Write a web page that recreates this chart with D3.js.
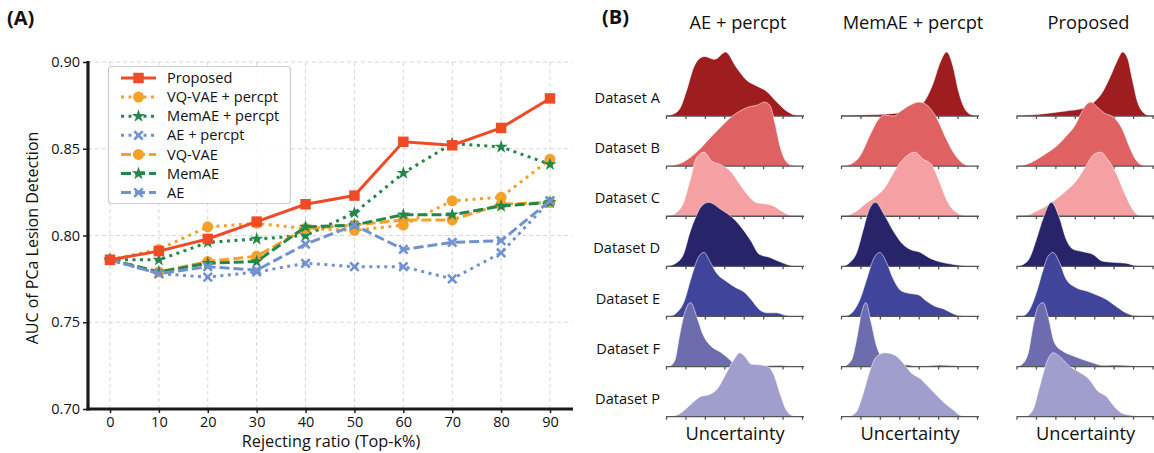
<!DOCTYPE html>
<meta charset="UTF-8">
<head>
    <script src="https://d3js.org/d3.v7.min.js"></script>
    <style>
        body { margin: 0; background: #fff; }
        text { font-family: "Open Sans", sans-serif; fill: #111; }
        .grid line { stroke: #d4d4d4; stroke-width: 0.9px; stroke-dasharray: 4,3; }
        .spine { stroke: #1a1a1a; stroke-width: 3.2px; }
        .ridge-axis path, .ridge-axis line { stroke: #555; stroke-width: 1.3px; }
    </style>
</head>
<body>
<script>
    // ---------- panel A data ----------
    var ratios = [0, 10, 20, 30, 40, 50, 60, 70, 80, 90];
    var yTicks = [0.70, 0.75, 0.80, 0.85, 0.90];

    var proposed    = [0.786, 0.791, 0.798, 0.808, 0.818, 0.823, 0.854, 0.852, 0.862, 0.879];
    var vqvaePercpt = [0.786, 0.792, 0.805, 0.807, 0.804, 0.803, 0.806, 0.820, 0.822, 0.844];
    var memaePercpt = [0.786, 0.786, 0.796, 0.798, 0.800, 0.813, 0.836, 0.853, 0.851, 0.841];
    var aePercpt    = [0.786, 0.778, 0.776, 0.779, 0.784, 0.782, 0.782, 0.775, 0.790, 0.820];
    var vqvae       = [0.786, 0.779, 0.785, 0.788, 0.804, 0.806, 0.809, 0.809, 0.818, 0.819];
    var memae       = [0.786, 0.779, 0.784, 0.785, 0.805, 0.806, 0.812, 0.812, 0.817, 0.819];
    var ae          = [0.786, 0.778, 0.782, 0.780, 0.795, 0.806, 0.792, 0.796, 0.797, 0.820];

    var methodNames = ["Proposed", "VQ-VAE + percpt", "MemAE + percpt", "AE + percpt", "VQ-VAE", "MemAE", "AE"];

    // ---------- panel B data (density, fraction of peak, x in tick units 0..7) ----------
    var datasets = ["Dataset A", "Dataset B", "Dataset C", "Dataset D", "Dataset E", "Dataset F", "Dataset P"];
    var ridgeTitles = ["AE + percpt", "MemAE + percpt", "Proposed"];

    var ridgeAEPercpt = [
        [[0,0],[0.38,0.03],[0.72,0.12],[1.06,0.4],[1.4,0.74],[1.66,0.88],[2.0,0.93],[2.5,0.885],[3.07,1.0],[3.6,0.77],[4.15,0.56],[4.67,0.47],[5.2,0.38],[5.7,0.22],[6.2,0.08],[6.64,0.015],[7,0]],
        [[0,0],[0.2,0.005],[0.72,0.04],[1.23,0.13],[1.75,0.27],[2.26,0.44],[2.78,0.6],[3.3,0.755],[3.8,0.86],[4.32,0.93],[4.67,0.95],[5.06,1.0],[5.35,0.95],[5.6,0.68],[5.87,0.31],[6.12,0.1],[6.47,0.015],[7,0]],
        [[0,0],[0.2,0.01],[0.55,0.06],[0.9,0.21],[1.23,0.55],[1.58,0.92],[1.96,1.0],[2.35,0.86],[2.78,0.81],[3.3,0.71],[3.8,0.5],[4.24,0.32],[4.67,0.21],[5.18,0.19],[5.6,0.15],[5.95,0.08],[6.38,0.015],[7,0]],
        [[0,0],[0.1,0.005],[0.55,0.057],[0.9,0.19],[1.23,0.53],[1.5,0.75],[1.8,0.93],[2.2,1.0],[2.78,0.9],[3.6,0.71],[4.03,0.55],[4.37,0.4],[4.8,0.19],[5.35,0.14],[5.87,0.07],[6.4,0.015],[7,0]],
        [[0,0],[0.2,0.005],[0.55,0.06],[0.9,0.21],[1.32,0.63],[1.66,0.92],[1.96,1.0],[2.26,0.86],[2.6,0.68],[3.1,0.55],[3.6,0.45],[4.03,0.38],[4.37,0.27],[4.8,0.11],[5.18,0.057],[5.7,0.057],[6.12,0.02],[6.55,0.003],[7,0]],
        [[0,0],[0.2,0.01],[0.46,0.1],[0.72,0.52],[0.98,0.86],[1.27,1.0],[1.58,0.78],[1.92,0.49],[2.35,0.31],[2.78,0.23],[3.2,0.13],[3.6,0.03],[4.15,0.01],[4.67,0.01],[5.87,0.02],[6.4,0.005],[7,0]],
        [[0,0],[0.38,0.01],[0.72,0.05],[1.23,0.18],[1.75,0.31],[2.26,0.35],[2.6,0.42],[3.1,0.68],[3.53,0.91],[3.8,1.0],[4.06,0.94],[4.4,0.82],[4.83,0.81],[5.26,0.78],[5.52,0.68],[5.87,0.36],[6.2,0.1],[6.55,0.015],[7,0]]
    ];
    var ridgeMemAEPercpt = [
        [[0,0],[0.46,0.01],[1.5,0.02],[2.7,0.04],[3.37,0.07],[3.9,0.12],[4.4,0.28],[4.74,0.51],[5.08,0.82],[5.44,1.0],[5.77,0.77],[6.03,0.41],[6.28,0.17],[6.63,0.03],[7,0]],
        [[0,0],[0.1,0.003],[0.46,0.026],[0.98,0.16],[1.5,0.49],[1.92,0.73],[2.26,0.8],[2.7,0.78],[3.03,0.85],[3.54,0.95],[4.02,1.0],[4.4,0.96],[4.91,0.76],[5.43,0.42],[5.86,0.18],[6.28,0.04],[6.63,0.003],[7,0]],
        [[0,0],[0.3,0.01],[0.8,0.08],[1.32,0.21],[1.83,0.32],[2.26,0.45],[2.7,0.68],[3.2,0.89],[3.8,1.0],[4.23,0.89],[4.66,0.81],[5.08,0.53],[5.51,0.21],[5.94,0.06],[6.46,0.005],[7,0]],
        [[0,0],[0.2,0.01],[0.46,0.06],[0.8,0.21],[1.15,0.58],[1.4,0.85],[1.78,1.0],[2.2,0.82],[2.7,0.55],[3.2,0.34],[3.6,0.26],[4.07,0.22],[4.5,0.14],[5.1,0.07],[5.8,0.03],[6.3,0.01],[7,0]],
        [[0,0],[0.3,0.01],[0.63,0.08],[0.98,0.27],[1.32,0.58],[1.66,0.89],[2.0,1.0],[2.35,0.84],[2.7,0.58],[3.1,0.4],[3.54,0.36],[3.97,0.34],[4.4,0.24],[4.83,0.16],[5.26,0.12],[5.68,0.057],[6.1,0.01],[7,0]],
        [[0,0],[0.2,0.01],[0.55,0.11],[0.8,0.42],[1.06,0.84],[1.28,1.0],[1.52,0.73],[1.83,0.32],[2.17,0.11],[2.6,0.03],[3.37,0.03],[3.9,0.005],[5.08,0.026],[5.77,0.015],[6.3,0.002],[7,0]],
        [[0,0],[0.46,0.01],[0.8,0.08],[1.15,0.37],[1.5,0.73],[1.83,0.94],[2.26,1.0],[2.78,0.96],[3.2,0.84],[3.63,0.68],[4.06,0.6],[4.49,0.47],[4.91,0.34],[5.34,0.21],[5.77,0.11],[6.2,0.015],[7,0]]
    ];
    var ridgeProposed = [
        [[0,0],[0.5,0.01],[1.54,0.04],[2.56,0.08],[3.41,0.12],[3.92,0.2],[4.44,0.38],[4.86,0.64],[5.2,0.875],[5.46,1.0],[5.72,0.9],[5.97,0.56],[6.23,0.22],[6.48,0.07],[6.83,0.005],[7,0]],
        [[0,0],[0.5,0.026],[1.02,0.1],[1.54,0.2],[2.05,0.31],[2.56,0.47],[2.99,0.625],[3.33,0.83],[3.58,0.96],[3.84,1.0],[4.1,0.94],[4.52,0.83],[5.03,0.755],[5.46,0.57],[5.8,0.31],[6.14,0.1],[6.48,0.015],[7,0]],
        [[0,0],[0.5,0.01],[1.02,0.08],[1.54,0.16],[2.05,0.27],[2.56,0.4],[3.07,0.55],[3.58,0.79],[4.0,0.97],[4.35,1.0],[4.69,0.89],[5.12,0.68],[5.55,0.37],[5.97,0.11],[6.31,0.015],[7,0]],
        [[0,0],[0.34,0.03],[0.68,0.135],[1.02,0.42],[1.37,0.75],[1.79,1.0],[2.22,0.75],[2.56,0.42],[2.9,0.27],[3.41,0.23],[3.92,0.19],[4.44,0.08],[5.12,0.06],[5.63,0.05],[6.14,0.01],[7,0]],
        [[0,0],[0.34,0.01],[0.68,0.11],[1.02,0.37],[1.37,0.73],[1.62,0.94],[1.88,1.0],[2.22,0.84],[2.56,0.58],[3.07,0.45],[3.58,0.4],[4.1,0.34],[4.61,0.27],[5.12,0.16],[5.63,0.057],[6.14,0.01],[7,0]],
        [[0,0],[0.26,0.03],[0.6,0.21],[0.85,0.63],[1.11,0.94],[1.37,1.0],[1.62,0.79],[1.96,0.37],[2.39,0.24],[2.9,0.17],[3.41,0.11],[3.92,0.06],[4.44,0.02],[4.95,0.026],[5.63,0.02],[6.31,0.005],[7,0]],
        [[0,0],[0.5,0.01],[0.85,0.11],[1.19,0.47],[1.54,0.84],[1.88,1.0],[2.3,0.92],[2.73,0.79],[3.16,0.71],[3.75,0.58],[4.18,0.4],[4.61,0.32],[5.03,0.16],[5.46,0.05],[5.97,0.02],[6.48,0.005],[7,0]]
    ];

    var ridgeColors = ["#9e1e20", "#e06162", "#f5a0a2", "#27246a", "#41449b", "#6c6cae", "#a09ecc"];

    // ---------- setup ----------
    var W = 1154, H = 453;
    var svg = d3.select("body").append("svg").attr("width", W).attr("height", H);

    // ================= Panel A =================
    var x = d3.scaleLinear().domain([-4.5, 94.5]).range([88, 572]);
    var y = d3.scaleLinear().domain([0.70, 0.90]).range([409, 62]);

    var red = "#ef4b26", orange = "#f6a12a", green = "#25874b", blue = "#7093d0";

    // series in draw order (Proposed drawn last, on top)
    var series = [
        { name: methodNames[1], values: vqvaePercpt, color: orange, dash: "3,4.5", marker: "circle" },
        { name: methodNames[2], values: memaePercpt, color: green, dash: "3,4.5", marker: "star" },
        { name: methodNames[3], values: aePercpt, color: blue, dash: "3,4.5", marker: "x" },
        { name: methodNames[4], values: vqvae, color: orange, dash: "10,4", marker: "circle" },
        { name: methodNames[5], values: memae, color: green, dash: "10,4", marker: "star" },
        { name: methodNames[6], values: ae, color: blue, dash: "10,4", marker: "x" },
        { name: methodNames[0], values: proposed, color: red, dash: null, marker: "square" }
    ];

    // grid
    var grid = svg.append("g").attr("class", "grid");
    grid.selectAll(".gy").data(yTicks).enter().append("line")
        .attr("x1", x.range()[0]).attr("x2", x.range()[1])
        .attr("y1", function (d) { return y(d); }).attr("y2", function (d) { return y(d); });
    grid.selectAll(".gx").data(ratios).enter().append("line")
        .attr("x1", function (d) { return x(d); }).attr("x2", function (d) { return x(d); })
        .attr("y1", y.range()[0]).attr("y2", y.range()[1]);

    // axes
    var yAxis = svg.append("g").attr("transform", "translate(88,0)")
        .call(d3.axisLeft(y).tickValues(yTicks).tickFormat(d3.format(".2f")).tickSize(5).tickPadding(3));
    var xAxis = svg.append("g").attr("transform", "translate(0,409)")
        .call(d3.axisBottom(x).tickValues(ratios).tickSize(4).tickPadding(4));
    [yAxis, xAxis].forEach(function (a) {
        a.select(".domain").remove();
        a.selectAll(".tick line").attr("stroke", "#1a1a1a").attr("stroke-width", 1.5);
        a.selectAll(".tick text").style("font-size", "14.5px").style("font-family", "'Open Sans', sans-serif").attr("fill", "#111");
    });

    function markerPath(type) {
        if (type === "square") return d3.symbol(d3.symbolSquare, 110)();
        if (type === "circle") return d3.symbol(d3.symbolCircle, 95)();
        if (type === "star") return d3.symbol(d3.symbolStar, 55)();
        return "M-4.2,-4.2L4.2,4.2M-4.2,4.2L4.2,-4.2";
    }
    function drawMarker(g, type, color, px, py) {
        var p = g.append("path").attr("d", markerPath(type))
            .attr("transform", "translate(" + px + "," + py + ")");
        if (type === "x") p.attr("fill", "none").attr("stroke", color).attr("stroke-width", 2.6);
        else p.attr("fill", color);
    }

    var line = d3.line().x(function (d, i) { return x(ratios[i]); }).y(function (d) { return y(d); });

    series.forEach(function (s) {
        var g = svg.append("g");
        g.append("path").attr("d", line(s.values))
            .attr("fill", "none").attr("stroke", s.color).attr("stroke-width", 3)
            .attr("stroke-dasharray", s.dash);
        s.values.forEach(function (v, i) { drawMarker(g, s.marker, s.color, x(ratios[i]), y(v)); });
    });

    // spines
    svg.append("line").attr("class", "spine").attr("x1", 88).attr("x2", 88).attr("y1", 61).attr("y2", 410.5);
    svg.append("line").attr("class", "spine").attr("x1", 86.5).attr("x2", 573).attr("y1", 409).attr("y2", 409);

    // legend
    var legendOrder = [6, 0, 1, 2, 3, 4, 5];
    var leg = svg.append("g");
    leg.append("rect").attr("x", 108.5).attr("y", 66.5).attr("width", 182).attr("height", 137)
        .attr("rx", 3).attr("fill", "#fff").attr("fill-opacity", 0.85).attr("stroke", "#cfcfcf").attr("stroke-width", 1.2);
    legendOrder.forEach(function (si, k) {
        var s = series[si], ly = 78 + k * 19.1;
        leg.append("line").attr("x1", 121).attr("x2", 156).attr("y1", ly).attr("y2", ly)
            .attr("stroke", s.color).attr("stroke-width", 3).attr("stroke-dasharray", s.dash);
        drawMarker(leg, s.marker, s.color, 138.5, ly);
        leg.append("text").attr("x", 167).attr("y", ly).attr("dy", "0.35em")
            .style("font-size", "14.6px").text(s.name);
    });

    // labels
    svg.append("text").attr("x", 331).attr("y", 447).attr("text-anchor", "middle")
        .style("font-size", "16.3px").text("Rejecting ratio (Top-k%)");
    svg.append("text").attr("transform", "translate(38,238) rotate(-90)").attr("text-anchor", "middle")
        .style("font-size", "16px").text("AUC of PCa Lesion Detection");
    svg.append("text").attr("x", 7).attr("y", 25).style("font-size", "20px").style("font-weight", "bold").text("(A)");

    // ================= Panel B =================
    svg.append("text").attr("x", 602).attr("y", 24).style("font-size", "20px").style("font-weight", "bold").text("(B)");

    var colStarts = [666, 841, 1016.5];
    var ridgeSets = [ridgeAEPercpt, ridgeMemAEPercpt, ridgeProposed];
    var rowY = d3.scaleLinear().domain([0, 6]).range([116, 416.7]);
    var hgt = d3.scaleLinear().domain([0, 1]).range([0, 64]);

    datasets.forEach(function (name, r) {
        svg.append("text").attr("x", 660).attr("y", rowY(r) - 18).attr("dy", "0.35em")
            .attr("text-anchor", "end").style("font-size", "14.6px").text(name);
    });

    ridgeSets.forEach(function (set, c) {
        var t = d3.scaleLinear().domain([0, 7]).range([colStarts[c], colStarts[c] + 136]);
        var col = svg.append("g");
        svg.append("text").attr("x", colStarts[c] + 72).attr("y", 29).attr("text-anchor", "middle")
            .style("font-size", "18.3px").text(ridgeTitles[c]);
        svg.append("text").attr("x", colStarts[c] + 69).attr("y", 440).attr("text-anchor", "middle")
            .style("font-size", "18.3px").text("Uncertainty");

        set.forEach(function (curve, r) {
            var base = rowY(r);
            var area = d3.area().curve(d3.curveMonotoneX)
                .x(function (d) { return t(d[0]); })
                .y0(base).y1(function (d) { return base - hgt(d[1]); });
            var top = d3.line().curve(d3.curveMonotoneX)
                .x(function (d) { return t(d[0]); })
                .y(function (d) { return base - hgt(d[1]); });
            col.append("path").attr("d", area(curve)).attr("fill", ridgeColors[r]);
            col.append("path").attr("d", top(curve)).attr("fill", "none")
                .attr("stroke", "#fff").attr("stroke-width", 0.7).attr("stroke-opacity", 0.8);
            var ax = col.append("g").attr("class", "ridge-axis").attr("transform", "translate(0," + base + ")")
                .call(d3.axisBottom(t).tickValues(d3.range(8)).tickFormat("").tickSize(3).tickSizeOuter(0));
            ax.select(".domain").attr("d", "M" + t(0) + ",0H" + (t(7) + 2));
        });
    });
</script>
</body>
